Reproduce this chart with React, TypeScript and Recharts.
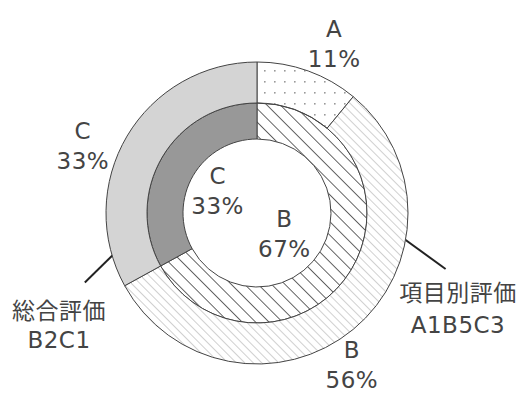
import { PieChart, Pie, Cell } from "recharts";

// 項目別評価 (outer ring) and 総合評価 (inner ring), in percent
const outerNames = ["A", "B", "C"];
const outerShares = [11, 56, 33];
const innerNames = ["B", "C"];
const innerShares = [67, 33];
const calloutTitles = ["総合評価", "項目別評価"];
const calloutCodes = ["B2C1", "A1B5C3"];

const CX = 252;
const CY = 208;
const RAD = Math.PI / 180;
const FONT = "'DejaVu Sans', 'Noto Sans CJK JP', sans-serif";
const INK = "#444";

const outerData = outerNames.map((name, i) => ({ name, value: outerShares[i] }));
const innerData = innerNames.map((name, i) => ({ name, value: innerShares[i] }));

const outerFill: Record<string, string> = {
  A: "url(#dots)",
  B: "url(#hatchLight)",
  C: "#d4d4d4",
};
const innerFill: Record<string, string> = {
  B: "url(#hatchDark)",
  C: "#989898",
};

// label radius and clockwise turn (deg) off the slice middle
const outerLabelAt: Record<string, { r: number; turn: number }> = {
  A: { r: 184, turn: 5 },
  B: { r: 181, turn: 8 },
  C: { r: 186, turn: -10 },
};
const innerLabelAt: Record<string, { r: number; turn: number }> = {
  B: { r: 36, turn: 10 },
  C: { r: 44, turn: -4 },
};

// clockwise-from-top polar helper
const polar = (deg: number, r: number) => ({
  x: CX + r * Math.sin(deg * RAD),
  y: CY - r * Math.cos(deg * RAD),
});

const TwoLine = ({
  x,
  y,
  top,
  bottom,
  gap = 30,
}: {
  x: number;
  y: number;
  top: string;
  bottom: string;
  gap?: number;
}) => (
  <text x={x} y={y} textAnchor="middle" fontFamily={FONT} fontSize={23} letterSpacing={0.5} fill={INK}>
    <tspan x={x} dy={-9}>{top}</tspan>
    <tspan x={x} dy={gap}>{bottom}</tspan>
  </text>
);

const makeLabel =
  (places: Record<string, { r: number; turn: number }>) =>
  (props: any) => {
    const { cx, cy, midAngle, name, value } = props;
    const p = places[name];
    const a = (midAngle - p.turn) * RAD;
    const x = cx + p.r * Math.cos(a);
    const y = cy - p.r * Math.sin(a);
    return <TwoLine key={name} x={x} y={y} top={name} bottom={`${value}%`} />;
  };

const callouts = [
  { from: polar(263, 105), to: polar(246, 183), tx: 59, ty: 328, gap: 29 },
  { from: polar(99, 142), to: polar(107.5, 203), tx: 458, ty: 310, gap: 32 },
];

export default function App() {
  return (
    <div style={{ position: "absolute", left: 0, top: 0, width: 524, height: 394, background: "#fff" }}>
      <PieChart width={524} height={394}>
        <defs>
          <pattern id="dots" patternUnits="userSpaceOnUse" width={10} height={11}>
            <rect x={4} y={4} width={1.6} height={1.6} fill="#9a9a9a" />
          </pattern>
          <pattern id="hatchLight" patternUnits="userSpaceOnUse" width={6} height={10} patternTransform="rotate(-45)">
            <rect width={6} height={10} fill="#fff" />
            <line x1={0} y1={0} x2={0} y2={10} stroke="#b0b0b0" strokeWidth={1.2} />
          </pattern>
          <pattern id="hatchDark" patternUnits="userSpaceOnUse" width={9.5} height={10} patternTransform="rotate(-45)">
            <rect width={9.5} height={10} fill="#fff" />
            <line x1={0} y1={0} x2={0} y2={10} stroke="#333" strokeWidth={1.5} />
          </pattern>
        </defs>
        <Pie
          data={innerData}
          dataKey="value"
          cx={CX}
          cy={CY}
          innerRadius={74}
          outerRadius={110}
          startAngle={90}
          endAngle={-270}
          stroke="#444"
          strokeWidth={1}
          label={makeLabel(innerLabelAt)}
          labelLine={false}
          isAnimationActive={false}
        >
          {innerData.map((d) => (
            <Cell key={d.name} fill={innerFill[d.name]} />
          ))}
        </Pie>
        <Pie
          data={outerData}
          dataKey="value"
          cx={CX}
          cy={CY}
          innerRadius={110}
          outerRadius={151}
          startAngle={90}
          endAngle={-270}
          stroke="#444"
          strokeWidth={1}
          label={makeLabel(outerLabelAt)}
          labelLine={false}
          isAnimationActive={false}
        >
          {outerData.map((d) => (
            <Cell key={d.name} fill={outerFill[d.name]} />
          ))}
        </Pie>
        <g>
          {callouts.map((c, i) => (
            <g key={calloutTitles[i]}>
              <line x1={c.from.x} y1={c.from.y} x2={c.to.x} y2={c.to.y} stroke="#222" strokeWidth={2} />
              <TwoLine x={c.tx} y={c.ty} top={calloutTitles[i]} bottom={calloutCodes[i]} gap={c.gap} />
            </g>
          ))}
        </g>
      </PieChart>
    </div>
  );
}
